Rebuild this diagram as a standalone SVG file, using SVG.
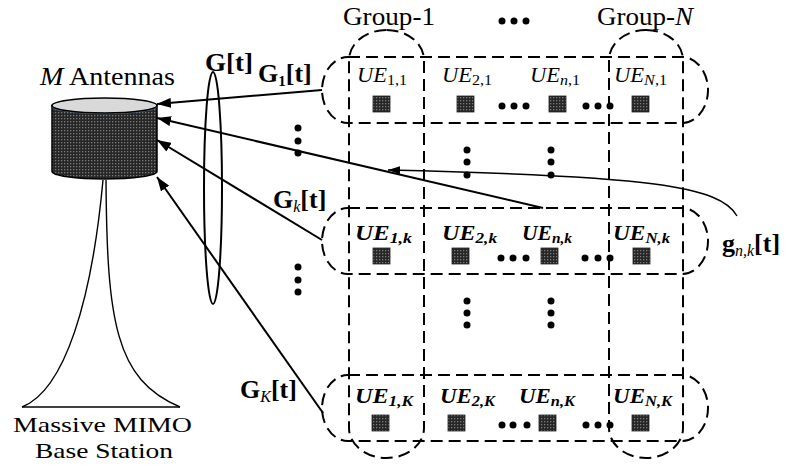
<svg xmlns="http://www.w3.org/2000/svg" width="787" height="475" viewBox="0 0 787 475">
  <style>
    text { font-family: "Liberation Serif", "Times New Roman", serif; fill: #000; }
    .lbl { font-size: 26px; }
    .cap { font-size: 22px; }
    .bold { font-size: 26px; font-weight: bold; }
    .ue { font-size: 21px; font-style: italic; }
    .ueb { font-size: 21px; font-style: italic; font-weight: bold; }
    .sub { font-size: 15px; font-style: normal; }
    .subn { font-size: 15px; font-style: italic; }
    .subb { font-size: 15px; font-style: italic; font-weight: bold; }
    .subi { font-size: 16px; font-style: italic; font-weight: normal; }
    .dash { fill: none; stroke: #000; stroke-width: 2; stroke-dasharray: 12 6; }
    .wire { fill: none; stroke: #000; stroke-width: 2; }
    .thin { fill: none; stroke: #000; stroke-width: 1.4; }
    .dot { fill: #000; }
    .dev { fill: url(#mesh); stroke: #222; stroke-width: 0.8; }
  </style>
  <defs>
    <pattern id="mesh" width="3" height="3" patternUnits="userSpaceOnUse">
      <rect width="3" height="3" fill="#262626"/>
      <rect x="1" y="1" width="1.3" height="1.3" fill="#7a7a7a"/>
    </pattern>
    <marker id="head" viewBox="0 0 14 10" refX="14" refY="5" markerWidth="14" markerHeight="10" markerUnits="userSpaceOnUse" orient="auto">
      <path d="M0,0 L14,5 L0,10 Z" fill="#000"/>
    </marker>
    <marker id="headSmall" viewBox="0 0 12 8" refX="12" refY="4" markerWidth="12" markerHeight="8" markerUnits="userSpaceOnUse" orient="auto">
      <path d="M0,0 L12,4 L0,8 Z" fill="#000"/>
    </marker>
  </defs>

  <rect width="787" height="475" fill="#fff"/>

  <!-- base station: antenna array and tower -->
  <g id="base-station">
    <path d="M103,180 C92,300 65,390 22,407" class="thin"/>
    <path d="M106,180 C107,320 115,380 180,407" class="thin"/>
    <line x1="22" y1="407" x2="180" y2="407" class="thin"/>
    <path d="M52,105.5 V171.5 A52.5,7.5 0 0 0 157,171.5 V105.5 Z" fill="url(#mesh)" stroke="#000" stroke-width="1.5"/>
    <path d="M52.5,107 A52.5,7.5 0 0 0 156.5,107" fill="none" stroke="#5b7b9b" stroke-width="1.5"/>
    <ellipse cx="104.5" cy="105.5" rx="52.5" ry="7.5" fill="#d9d9d9" stroke="#000" stroke-width="1.5"/>
    <text class="lbl" x="40" y="85" textLength="135" lengthAdjust="spacingAndGlyphs"><tspan font-style="italic">M</tspan> Antennas</text>
    <text class="cap" x="13" y="432" textLength="179" lengthAdjust="spacingAndGlyphs">Massive MIMO</text>
    <text class="cap" x="35" y="458" textLength="138" lengthAdjust="spacingAndGlyphs">Base Station</text>
  </g>

  <!-- user groups (columns) -->
  <g id="group-1">
    <rect x="349" y="30" width="75" height="428" rx="37.5" ry="30" class="dash"/>
    <text class="lbl" x="343" y="25" textLength="92" lengthAdjust="spacingAndGlyphs">Group-1</text>
  </g>
  <g id="group-N">
    <rect x="609" y="30" width="74" height="428" rx="37" ry="30" class="dash"/>
    <text class="lbl" x="597" y="25" textLength="96" lengthAdjust="spacingAndGlyphs">Group-<tspan font-style="italic">N</tspan></text>
  </g>
  <g id="group-dots">
    <circle cx="502" cy="21" r="3.5" class="dot"/>
    <circle cx="514" cy="21" r="3.5" class="dot"/>
    <circle cx="526" cy="21" r="3.5" class="dot"/>
  </g>

  <!-- row 1 -->
  <g id="row-1">
    <rect x="322" y="57" width="386" height="66" rx="26" ry="33" class="dash"/>
    <g id="ue-1-1">
      <text class="ue" x="357" y="82" textLength="50" lengthAdjust="spacingAndGlyphs">UE<tspan class="sub" dy="3">1,1</tspan></text>
      <rect x="373" y="96" width="17" height="16" class="dev"/>
    </g>
    <g id="ue-2-1">
      <text class="ue" x="442" y="82" textLength="50" lengthAdjust="spacingAndGlyphs">UE<tspan class="sub" dy="3">2,1</tspan></text>
      <rect x="457" y="96" width="17" height="16" class="dev"/>
    </g>
    <g id="ue-n-1">
      <text class="ue" x="530" y="82" textLength="50" lengthAdjust="spacingAndGlyphs">UE<tspan class="subn" dy="3">n</tspan><tspan class="sub">,1</tspan></text>
      <rect x="549" y="96" width="17" height="16" class="dev"/>
    </g>
    <g id="ue-N-1">
      <text class="ue" x="614" y="82" textLength="53" lengthAdjust="spacingAndGlyphs">UE<tspan class="subn" dy="3">N</tspan><tspan class="sub">,1</tspan></text>
      <rect x="632" y="96" width="17" height="16" class="dev"/>
    </g>
    <circle cx="502" cy="106" r="3.5" class="dot"/><circle cx="514" cy="106" r="3.5" class="dot"/><circle cx="526" cy="106" r="3.5" class="dot"/>
    <circle cx="586" cy="106" r="3.5" class="dot"/><circle cx="598" cy="106" r="3.5" class="dot"/><circle cx="610" cy="106" r="3.5" class="dot"/>
  </g>

  <!-- row k -->
  <g id="row-k">
    <rect x="322" y="208" width="386" height="66" rx="26" ry="33" class="dash"/>
    <g id="ue-1-k">
      <text class="ueb" x="355" y="240" textLength="57" lengthAdjust="spacingAndGlyphs">UE<tspan class="subb" dy="3">1,k</tspan></text>
      <rect x="373" y="248" width="17" height="16" class="dev"/>
    </g>
    <g id="ue-2-k">
      <text class="ueb" x="442" y="240" textLength="55" lengthAdjust="spacingAndGlyphs">UE<tspan class="subb" dy="3">2,k</tspan></text>
      <rect x="452" y="248" width="17" height="16" class="dev"/>
    </g>
    <g id="ue-n-k">
      <text class="ueb" x="522" y="240" textLength="50" lengthAdjust="spacingAndGlyphs">UE<tspan class="subb" dy="3">n,k</tspan></text>
      <rect x="541" y="248" width="17" height="16" class="dev"/>
    </g>
    <g id="ue-N-k">
      <text class="ueb" x="613" y="240" textLength="57" lengthAdjust="spacingAndGlyphs">UE<tspan class="subb" dy="3">N,k</tspan></text>
      <rect x="633" y="248" width="17" height="16" class="dev"/>
    </g>
    <circle cx="501" cy="258" r="3.5" class="dot"/><circle cx="513" cy="258" r="3.5" class="dot"/><circle cx="526" cy="258" r="3.5" class="dot"/>
    <circle cx="585" cy="258" r="3.5" class="dot"/><circle cx="598" cy="258" r="3.5" class="dot"/><circle cx="610" cy="258" r="3.5" class="dot"/>
  </g>

  <!-- row K -->
  <g id="row-K">
    <rect x="322" y="375" width="386" height="66" rx="26" ry="33" class="dash"/>
    <g id="ue-1-K">
      <text class="ueb" x="355" y="403" textLength="58" lengthAdjust="spacingAndGlyphs">UE<tspan class="subb" dy="3">1,K</tspan></text>
      <rect x="372" y="415" width="17" height="16" class="dev"/>
    </g>
    <g id="ue-2-K">
      <text class="ueb" x="440" y="403" textLength="55" lengthAdjust="spacingAndGlyphs">UE<tspan class="subb" dy="3">2,K</tspan></text>
      <rect x="448" y="415" width="17" height="16" class="dev"/>
    </g>
    <g id="ue-n-K">
      <text class="ueb" x="519" y="403" textLength="56" lengthAdjust="spacingAndGlyphs">UE<tspan class="subb" dy="3">n,K</tspan></text>
      <rect x="539" y="415" width="17" height="16" class="dev"/>
    </g>
    <g id="ue-N-K">
      <text class="ueb" x="613" y="403" textLength="59" lengthAdjust="spacingAndGlyphs">UE<tspan class="subb" dy="3">N,K</tspan></text>
      <rect x="632" y="415" width="17" height="16" class="dev"/>
    </g>
    <circle cx="502" cy="425" r="3.5" class="dot"/><circle cx="513" cy="425" r="3.5" class="dot"/><circle cx="527" cy="425" r="3.5" class="dot"/>
    <circle cx="586" cy="425" r="3.5" class="dot"/><circle cx="598" cy="425" r="3.5" class="dot"/><circle cx="610" cy="425" r="3.5" class="dot"/>
  </g>

  <!-- vertical ellipsis marks between rows -->
  <g id="row-gaps">
    <circle cx="298" cy="128" r="3.5" class="dot"/><circle cx="298" cy="141" r="3.5" class="dot"/><circle cx="298" cy="153" r="3.5" class="dot"/>
    <circle cx="298" cy="267" r="3.5" class="dot"/><circle cx="298" cy="280" r="3.5" class="dot"/><circle cx="298" cy="292" r="3.5" class="dot"/>
    <circle cx="467" cy="150" r="3.5" class="dot"/><circle cx="467" cy="162" r="3.5" class="dot"/><circle cx="467" cy="175" r="3.5" class="dot"/>
    <circle cx="551" cy="150" r="3.5" class="dot"/><circle cx="551" cy="162" r="3.5" class="dot"/><circle cx="551" cy="175" r="3.5" class="dot"/>
    <circle cx="467" cy="301" r="3.5" class="dot"/><circle cx="467" cy="313" r="3.5" class="dot"/><circle cx="467" cy="325" r="3.5" class="dot"/>
    <circle cx="551" cy="301" r="3.5" class="dot"/><circle cx="551" cy="313" r="3.5" class="dot"/><circle cx="551" cy="325" r="3.5" class="dot"/>
  </g>

  <!-- channel links -->
  <g id="connectors">
    <line x1="322" y1="90" x2="157" y2="104" class="wire" marker-end="url(#head)"/>
    <line x1="543" y1="208" x2="157" y2="118" class="wire" marker-end="url(#head)"/>
    <line x1="322" y1="240" x2="157" y2="140" class="wire" marker-end="url(#head)"/>
    <line x1="323" y1="413" x2="157" y2="177" class="wire" marker-end="url(#head)"/>
    <path d="M737,216 C720,186 650,176 388,170" class="thin" marker-end="url(#headSmall)"/>
    <ellipse cx="213" cy="188" rx="9" ry="116" class="wire"/>
    <text class="bold" x="205" y="71" textLength="48" lengthAdjust="spacingAndGlyphs">G[t]</text>
    <text class="bold" x="258" y="82">G<tspan class="sub" dy="4">1</tspan><tspan dy="-4">[t]</tspan></text>
    <text class="bold" x="273" y="208">G<tspan class="subi" dy="4">k</tspan><tspan dy="-4">[t]</tspan></text>
    <text class="bold" x="240" y="398">G<tspan class="subi" dy="4">K</tspan><tspan dy="-4">[t]</tspan></text>
    <text class="bold" x="722" y="252">g<tspan class="subi" dy="4">n,k</tspan><tspan dy="-4">[t]</tspan></text>
  </g>
</svg>
